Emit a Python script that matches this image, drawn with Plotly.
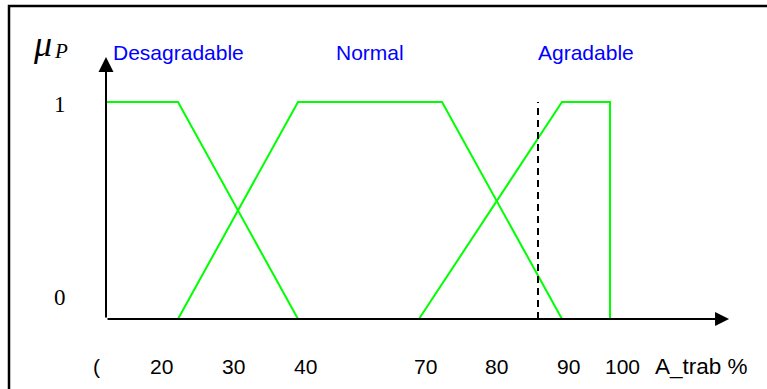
import plotly.graph_objects as go

# Membership functions of the working-area variable (drawing units along the axis)
desag_x = [0, 15, 40]
desag_y = [1, 1, 0]
normal_x = [15, 40, 70, 95]
normal_y = [0, 1, 1, 0]
agrad_x = [65.2, 95, 105, 105]
agrad_y = [0, 1, 1, 0]

# Current input value (dashed marker line)
input_x = [90, 90]
input_y = [0, 1]

# Set names and where their titles sit
set_names = ["Desagradable", "Normal", "Agradable"]
set_name_x = [15, 54.9, 99.9]

# Axis tick labels and their positions along the drawn axis
tick_text = ["(", "20", "30", "40", "70", "80", "90", "100"]
tick_pos = [-1.9, 11.5, 26.5, 41.5, 66.5, 81.3, 96.3, 107.6]

# Membership degree labels
deg_text = ["1", "0"]
deg_pos = [0.99, 0.10]

X_RANGE = [-22.083, 137.708]
Y_RANGE = [-0.3226, 1.470]
X_TIP = 129.8
Y_TIP = 1.207

GREEN = "#00ff00"
SANS = "Liberation Sans, Arial, sans-serif"
SERIF = "Liberation Serif, Times New Roman, serif"

fig = go.Figure()

for xs, ys in [(desag_x, desag_y), (normal_x, normal_y), (agrad_x, agrad_y)]:
    fig.add_trace(go.Scatter(x=xs, y=ys, mode="lines",
                             line=dict(color=GREEN, width=2),
                             hoverinfo="skip", showlegend=False))

fig.add_trace(go.Scatter(x=input_x, y=input_y, mode="lines",
                         line=dict(color="black", width=2, dash="7px,5px"),
                         hoverinfo="skip", showlegend=False))

annotations = []

# Axes with arrowheads
annotations.append(dict(x=X_TIP, y=0, ax=0, ay=0, xref="x", yref="y",
                        axref="x", ayref="y", text="", showarrow=True,
                        arrowhead=2, arrowsize=1.4, arrowwidth=2,
                        arrowcolor="black", standoff=0))
annotations.append(dict(x=0, y=Y_TIP, ax=0, ay=0, xref="x", yref="y",
                        axref="x", ayref="y", text="", showarrow=True,
                        arrowhead=2, arrowsize=1.5, arrowwidth=2,
                        arrowcolor="black", standoff=0))

for name, xc in zip(set_names, set_name_x):
    annotations.append(dict(x=xc, y=1.226, xref="x", yref="y", text=name,
                            showarrow=False, xanchor="center", yanchor="middle",
                            font=dict(family=SANS, size=21, color="#0000ff")))

for t, xp in zip(tick_text, tick_pos):
    annotations.append(dict(x=xp, y=-0.2166, xref="x", yref="y", text=t,
                            showarrow=False, xanchor="center", yanchor="middle",
                            font=dict(family=SANS, size=21, color="black")))

annotations.append(dict(x=114.0, y=-0.2166, xref="x", yref="y", text="A_trab %",
                        showarrow=False, xanchor="left", yanchor="middle",
                        font=dict(family=SANS, size=22.5, color="black")))

for t, yp in zip(deg_text, deg_pos):
    annotations.append(dict(x=-9.6, y=yp, xref="x", yref="y", text=t,
                            showarrow=False, xanchor="center", yanchor="middle",
                            font=dict(family=SERIF, size=23, color="black")))

# Axis symbol mu with subscript P
annotations.append(dict(x=-13.2, y=1.265, xref="x", yref="y", text="<i>μ</i>",
                        showarrow=False, xanchor="center", yanchor="middle",
                        font=dict(family=SERIF, size=36, color="black")))
annotations.append(dict(x=-9.3, y=1.235, xref="x", yref="y", text="<i>P</i>",
                        showarrow=False, xanchor="center", yanchor="middle",
                        font=dict(family=SERIF, size=21, color="black")))

# Frame around the diagram
shapes = [dict(type="rect", xref="paper", yref="paper",
               x0=9 / 767, x1=1.05, y0=-0.05, y1=1 - 6 / 389,
               line=dict(color="black", width=2.5), fillcolor="rgba(0,0,0,0)")]

fig.update_layout(
    width=767, height=389,
    margin=dict(l=0, r=0, t=0, b=0),
    paper_bgcolor="white", plot_bgcolor="white",
    xaxis=dict(range=X_RANGE, visible=False, fixedrange=True),
    yaxis=dict(range=Y_RANGE, visible=False, fixedrange=True),
    annotations=annotations,
    shapes=shapes,
    showlegend=False,
)

fig.write_html("out.html", config={"displayModeBar": False})
